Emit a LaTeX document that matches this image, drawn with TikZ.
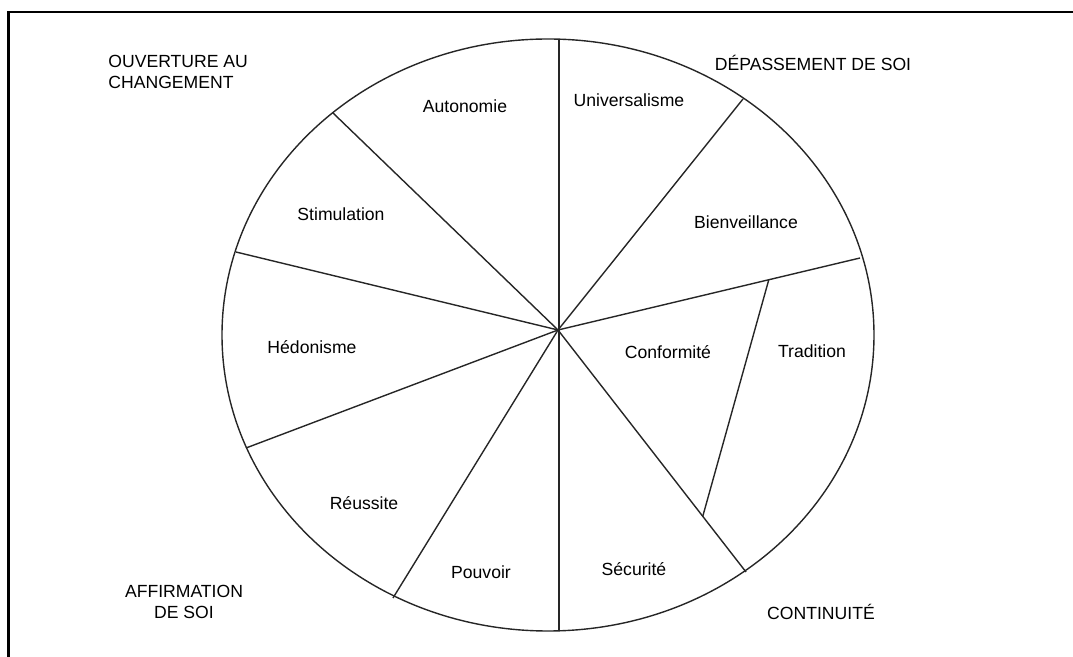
\documentclass[tikz,border=0pt]{standalone}
\usepackage{fontspec}
\setmainfont{Liberation Sans}
\usetikzlibrary{calc}

\tikzset{
  wert/.style={font=\fontsize{8.8}{10.2}\selectfont, inner sep=0pt},
  gruppe/.style={font=\fontsize{8.8}{10.2}\selectfont, inner sep=0pt},
  linie/.style={line width=0.7pt, black!85}
}

\begin{document}
\begin{tikzpicture}[x=0.5pt,y=-0.5pt]
    \useasboundingbox (0,0) rectangle (1073,657);

    % -- Rahmen (oben und links) --
    \draw[line width=1.1pt] (8.5,670) -- (8.5,12) -- (1080,12);

    % -- Kreis --
    \draw[linie] (548,335) ellipse (326 and 296);

    % -- Mittelpunkt und Randpunkte --
    \coordinate (m) at (558,330);
    \coordinate (oben) at (559,39);
    \coordinate (unten) at (559,631);
    \coordinate (autsti) at (333,113);
    \coordinate (stihed) at (236,252);
    \coordinate (hedreu) at (246,448);
    \coordinate (reupou) at (393,598);
    \coordinate (seccon) at (746,572);
    \coordinate (unibie) at (743,99);
    \coordinate (bietra) at (860,258);

    % -- Speichen --
    \draw[linie] (oben) -- (unten);
    \foreach \p in {autsti,stihed,hedreu,reupou,seccon,unibie,bietra}
        \draw[linie] (m) -- (\p);

    % -- Trennlinie Konformität / Tradition --
    \draw[linie] ($(m)!0.698!(bietra)$) -- ($(m)!0.77!(seccon)$);

    % -- Werte --
    \node[wert] (autonomie) at (465,106) {Autonomie};
    \node[wert] (universalisme) at (629,100) {Universalisme};
    \node[wert] (stimulation) at (341,214) {Stimulation};
    \node[wert] (bienveillance) at (746,222) {Bienveillance};
    \node[wert] (hedonisme) at (312,347) {Hédonisme};
    \node[wert] (conformite) at (668,352) {Conformité};
    \node[wert] (tradition) at (812,351) {Tradition};
    \node[wert] (reussite) at (364,503) {Réussite};
    \node[wert] (pouvoir) at (481,572) {Pouvoir};
    \node[wert] (securite) at (634,569) {Sécurité};

    % -- Gruppen --
    \node[gruppe, anchor=west, align=left] (ouverture) at (108,72) {OUVERTURE AU\\CHANGEMENT};
    \node[gruppe] (depassement) at (813,63) {DÉPASSEMENT DE SOI};
    \node[gruppe, align=center] (affirmation) at (184,602) {AFFIRMATION\\DE SOI};
    \node[gruppe] (continuite) at (821,612) {CONTINUITÉ};
\end{tikzpicture}
\end{document}
